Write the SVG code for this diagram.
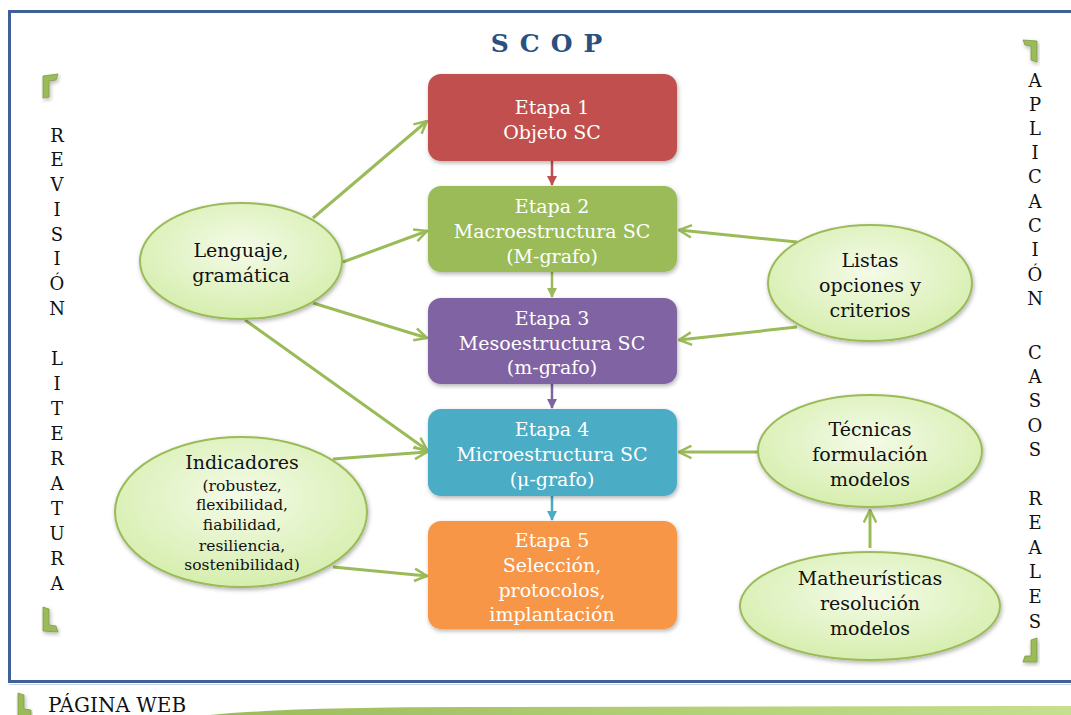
<svg xmlns="http://www.w3.org/2000/svg" width="1071" height="715" viewBox="0 0 1071 715">
<defs>
<style>
text{font-family:"DejaVu Serif","Liberation Serif",serif;}
.bx{font-size:19px;fill:#ffffff;text-anchor:middle;}
.el{font-size:19px;fill:#111111;text-anchor:middle;}
.sm{font-size:15.5px;fill:#111111;text-anchor:middle;}
.vt{font-size:18px;fill:#111111;text-anchor:middle;}
.ell{fill:url(#eg);stroke:#9BBB59;stroke-width:2;filter:url(#sh);}
.box{filter:url(#sh);}
.con{stroke:#9BBB59;stroke-width:3;fill:none;marker-end:url(#ga);}
.brk{fill:#9BBB59;stroke:#7E9B45;stroke-width:0.8;filter:url(#sh);}
</style>
<radialGradient id="eg" cx="50%" cy="40%" r="60%">
<stop offset="0" stop-color="#F4FBE8"/>
<stop offset="1" stop-color="#D6EEAE"/>
</radialGradient>
<linearGradient id="band" x1="0" y1="0" x2="1" y2="0">
<stop offset="0" stop-color="#9BBB59"/>
<stop offset="1" stop-color="#C6E08E"/>
</linearGradient>
<filter id="sh" x="-10%" y="-10%" width="125%" height="130%">
<feDropShadow dx="1" dy="2" stdDeviation="2" flood-color="#000" flood-opacity="0.3"/>
</filter>
<marker id="ga" viewBox="0 0 12 12" refX="11" refY="6" markerWidth="5" markerHeight="5" orient="auto" markerUnits="strokeWidth">
<path d="M1,1 L11,6 L1,11" fill="none" stroke="#9BBB59" stroke-width="2"/>
</marker>
<marker id="ar" viewBox="0 0 10 10" refX="9" refY="5" markerWidth="4" markerHeight="4" orient="auto" markerUnits="strokeWidth"><path d="M0,0 L10,5 L0,10 Z" fill="#C0504D"/></marker>
<marker id="ag" viewBox="0 0 10 10" refX="9" refY="5" markerWidth="4" markerHeight="4" orient="auto" markerUnits="strokeWidth"><path d="M0,0 L10,5 L0,10 Z" fill="#9BBB59"/></marker>
<marker id="ap" viewBox="0 0 10 10" refX="9" refY="5" markerWidth="4" markerHeight="4" orient="auto" markerUnits="strokeWidth"><path d="M0,0 L10,5 L0,10 Z" fill="#8064A2"/></marker>
<marker id="ab" viewBox="0 0 10 10" refX="9" refY="5" markerWidth="4" markerHeight="4" orient="auto" markerUnits="strokeWidth"><path d="M0,0 L10,5 L0,10 Z" fill="#4BACC6"/></marker>
</defs>
<rect width="1071" height="715" fill="#ffffff"/>
<g id="frame">
<rect x="9.5" y="11.5" width="1090" height="670" fill="none" stroke="#3F6198" stroke-width="3"/>
<line x1="9" y1="684.5" x2="1071" y2="684.5" stroke="#C9D6E8" stroke-width="1"/>
<path d="M210,715 Q290,707 470,707 L1071,706 L1071,715 Z" fill="url(#band)"/>
</g>
<g id="brackets">
<path class="brk" d="M43,76 L58,74 L56,80 L49,81 L49,97 L43,98 Z"/>
<path class="brk" d="M43,607 L49,609 L49,625 L56,626 L58,632 L43,631 Z"/>
<path class="brk" d="M1023,40 L1037,41 L1037,62 L1031,60 L1031,46 L1025,45 Z"/>
<path class="brk" d="M1037,638 L1037,662 L1023,662 L1025,656 L1031,656 L1031,640 Z"/>
<path class="brk" d="M18,693 L24,695 L24,709 L31,710 L31,716 L18,716 Z"/>
</g>
<text x="552" y="52" style="font-size:25px;font-weight:bold;fill:#2A4F80;text-anchor:middle;letter-spacing:11px">SCOP</text>
<g id="revision" class="vt">
<text x="57" y="142">R</text><text x="57" y="166">E</text><text x="57" y="191">V</text><text x="57" y="216">I</text><text x="57" y="241">S</text><text x="57" y="265">I</text><text x="57" y="290">Ó</text><text x="57" y="315">N</text>
<text x="57" y="365">L</text><text x="57" y="390">I</text><text x="57" y="415">T</text><text x="57" y="440">E</text><text x="57" y="465">R</text><text x="57" y="490">A</text><text x="57" y="515">T</text><text x="57" y="540">U</text><text x="57" y="565">R</text><text x="57" y="590">A</text>
</g>
<g id="aplicacion" class="vt">
<text x="1035" y="87">A</text><text x="1035" y="111">P</text><text x="1035" y="135">L</text><text x="1035" y="159">I</text><text x="1035" y="183">C</text><text x="1035" y="208">A</text><text x="1035" y="232">C</text><text x="1035" y="256">I</text><text x="1035" y="281">Ó</text><text x="1035" y="305">N</text>
<text x="1035" y="359">C</text><text x="1035" y="383">A</text><text x="1035" y="407">S</text><text x="1035" y="432">O</text><text x="1035" y="456">S</text>
<text x="1035" y="505">R</text><text x="1035" y="529">E</text><text x="1035" y="554">A</text><text x="1035" y="578">L</text><text x="1035" y="603">E</text><text x="1035" y="628">S</text>
</g>
<text x="48" y="712" style="font-size:20px;fill:#111">PÁGINA WEB</text>
<g id="connectors">
<line class="con" x1="313" y1="218" x2="427" y2="121"/>
<line class="con" x1="343" y1="262" x2="427" y2="231"/>
<line class="con" x1="313" y1="303" x2="427" y2="338"/>
<line class="con" x1="245" y1="320" x2="427" y2="450"/>
<line class="con" x1="333" y1="459" x2="427" y2="452"/>
<line class="con" x1="333" y1="567" x2="427" y2="576"/>
<line class="con" x1="797" y1="242" x2="679" y2="230"/>
<line class="con" x1="797" y1="327" x2="679" y2="340"/>
<line class="con" x1="758" y1="452" x2="679" y2="452"/>
<line class="con" x1="870" y1="548" x2="870" y2="510"/>
<line x1="552" y1="161" x2="552" y2="185" stroke="#C0504D" stroke-width="2.5" marker-end="url(#ar)"/>
<line x1="552" y1="272" x2="552" y2="297" stroke="#9BBB59" stroke-width="2.5" marker-end="url(#ag)"/>
<line x1="552" y1="384" x2="552" y2="408" stroke="#8064A2" stroke-width="2.5" marker-end="url(#ap)"/>
<line x1="552" y1="496" x2="552" y2="520" stroke="#4BACC6" stroke-width="2.5" marker-end="url(#ab)"/>
</g>
<g id="etapa1"><rect class="box" x="428" y="74" width="249" height="87" rx="13" fill="#C0504D"/>
<text class="bx" x="552" y="114">Etapa 1</text><text class="bx" x="552" y="139">Objeto SC</text></g>
<g id="etapa2"><rect class="box" x="428" y="186" width="249" height="86" rx="13" fill="#9BBB59"/>
<text class="bx" x="552" y="213">Etapa 2</text><text class="bx" x="552" y="238">Macroestructura SC</text><text class="bx" x="552" y="263">(M-grafo)</text></g>
<g id="etapa3"><rect class="box" x="428" y="298" width="249" height="86" rx="13" fill="#8064A2"/>
<text class="bx" x="552" y="325">Etapa 3</text><text class="bx" x="552" y="350">Mesoestructura SC</text><text class="bx" x="552" y="374">(m-grafo)</text></g>
<g id="etapa4"><rect class="box" x="428" y="409" width="249" height="87" rx="13" fill="#4BACC6"/>
<text class="bx" x="552" y="436">Etapa 4</text><text class="bx" x="552" y="461">Microestructura SC</text><text class="bx" x="552" y="486">(μ-grafo)</text></g>
<g id="etapa5"><rect class="box" x="428" y="521" width="249" height="108" rx="13" fill="#F79646"/>
<text class="bx" x="552" y="547">Etapa 5</text><text class="bx" x="552" y="572">Selección,</text><text class="bx" x="552" y="597">protocolos,</text><text class="bx" x="552" y="621">implantación</text></g>
<g id="lenguaje"><ellipse class="ell" cx="241" cy="261" rx="101" ry="58"/>
<text class="el" x="241" y="257">Lenguaje,</text><text class="el" x="241" y="282">gramática</text></g>
<g id="indicadores"><ellipse class="ell" cx="241" cy="512" rx="126" ry="75"/>
<text class="el" x="242" y="469">Indicadores</text>
<text class="sm" x="242" y="491">(robustez,</text><text class="sm" x="242" y="510">flexibilidad,</text><text class="sm" x="242" y="530">fiabilidad,</text><text class="sm" x="242" y="551">resiliencia,</text><text class="sm" x="242" y="570">sostenibilidad)</text></g>
<g id="listas"><ellipse class="ell" cx="870" cy="283" rx="102" ry="58"/>
<text class="el" x="870" y="267">Listas</text><text class="el" x="870" y="292">opciones y</text><text class="el" x="870" y="317">criterios</text></g>
<g id="tecnicas"><ellipse class="ell" cx="870" cy="451" rx="112" ry="56"/>
<text class="el" x="870" y="436">Técnicas</text><text class="el" x="870" y="461">formulación</text><text class="el" x="870" y="486">modelos</text></g>
<g id="matheuristicas"><ellipse class="ell" cx="870" cy="606" rx="130" ry="54"/>
<text class="el" x="870" y="585">Matheurísticas</text><text class="el" x="870" y="610">resolución</text><text class="el" x="870" y="635">modelos</text></g>
</svg>
